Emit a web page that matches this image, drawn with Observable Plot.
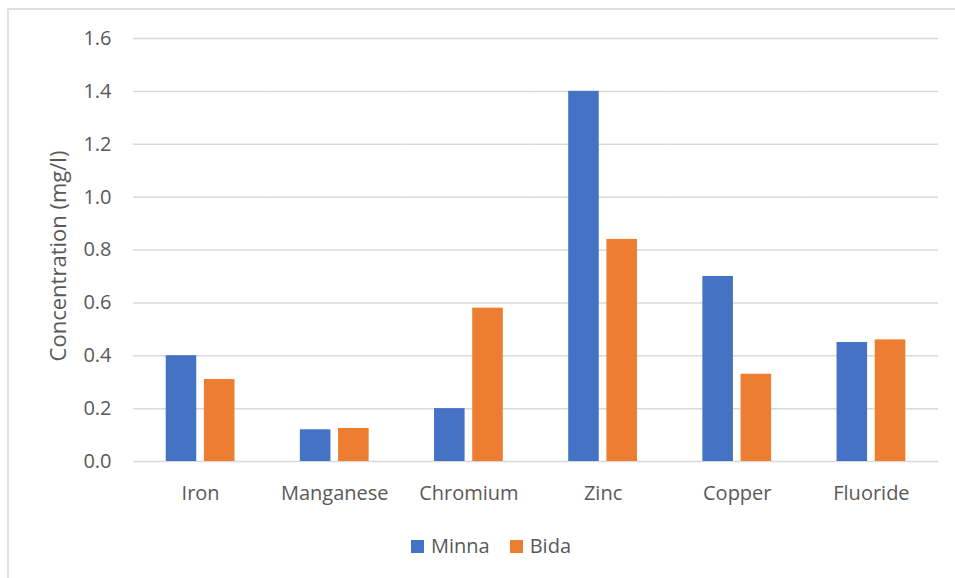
<!DOCTYPE html>
<html>
<head>
<meta charset="utf-8">
<script src="https://cdn.jsdelivr.net/npm/d3@7"></script>
<script src="https://cdn.jsdelivr.net/npm/@observablehq/plot@0.6"></script>
<style>
  html, body { margin: 0; padding: 0; background: #fff; overflow: hidden; }
  #wrap { position: relative; width: 955px; height: 578px; font-family: "Open Sans", sans-serif; color: #595959; }
  #frame { position: absolute; left: 7px; top: 8px; width: 1000px; height: 620px; border: 2px solid #e0e0e0; box-sizing: border-box; }
  #chart { position: absolute; left: 0; top: 0; }
  #ytitle { position: absolute; left: 57px; top: 256px; transform: translate(-50%, -50%) rotate(-90deg); white-space: nowrap; font-size: 22px; line-height: 26px; }
  #legend { position: absolute; left: 411px; top: 533px; display: flex; align-items: center; font-size: 20px; line-height: 26px; }
  .item { display: flex; align-items: center; margin-right: 20px; }
  .swatch { width: 13px; height: 13px; margin-right: 7px; }
</style>
</head>
<body>
<div id="wrap">
  <div id="frame"></div>
  <div id="chart"></div>
  <div id="ytitle">Concentration (mg/l)</div>
  <div id="legend"></div>
</div>
<script>
// Trace metal and fluoride concentrations in two towns (mg/l)
const categories = ["Iron", "Manganese", "Chromium", "Zinc", "Copper", "Fluoride"];
const seriesNames = ["Minna", "Bida"];
const minna = [0.40, 0.12, 0.20, 1.40, 0.70, 0.45];
const bida = [0.31, 0.125, 0.58, 0.84, 0.33, 0.46];
const yTicks = [0, 0.2, 0.4, 0.6, 0.8, 1.0, 1.2, 1.4, 1.6];
const colors = ["#4472C4", "#ED7D31"];

const rows = [];
categories.forEach((c, i) => {
  rows.push({category: c, series: "Minna", value: minna[i]});
  rows.push({category: c, series: "Bida", value: bida[i]});
});

const chart = Plot.plot({
  width: 955,
  height: 520,
  marginLeft: 133,
  marginRight: 17,
  marginTop: 38,
  marginBottom: 59,
  style: {fontFamily: "'Open Sans', sans-serif", fontSize: "20px", color: "#595959", background: "transparent"},
  fx: {domain: categories, padding: 0, round: false, axis: null},
  x: {domain: seriesNames, paddingInner: 0.2, paddingOuter: 0.856, round: false, axis: null},
  y: {domain: [0, 1.6], axis: null},
  color: {domain: seriesNames, range: colors},
  marks: [
    Plot.gridY(yTicks, {stroke: "#d9d9d9", strokeOpacity: 1, strokeWidth: 1.5}),
    Plot.barY(rows, {fx: "category", x: "series", y: "value", fill: "series"}),
    Plot.axisY(yTicks, {
      tickSize: 0, tickPadding: 22, tickFormat: d3.format(".1f"),
      label: null, fill: "#595959"
    }),
    Plot.axisFx({anchor: "bottom", tickSize: 0, tickPadding: 24, label: null, fill: "#595959"})
  ]
});
document.getElementById("chart").appendChild(chart);

// Legend below the plot
const legend = document.getElementById("legend");
seriesNames.forEach((s, i) => {
  const item = document.createElement("div");
  item.className = "item";
  const sw = document.createElement("span");
  sw.className = "swatch";
  sw.style.background = colors[i];
  const label = document.createElement("span");
  label.textContent = s;
  item.appendChild(sw);
  item.appendChild(label);
  legend.appendChild(item);
});
</script>
</body>
</html>
